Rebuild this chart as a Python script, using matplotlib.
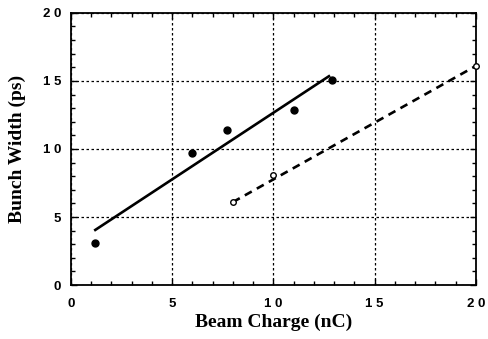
import matplotlib
matplotlib.use("Agg")
import matplotlib.pyplot as plt
from matplotlib.ticker import MultipleLocator

# filled points and their fitted line
charge_a = [1.2, 6.0, 7.7, 11.0, 12.9]
width_a = [3.1, 9.7, 11.4, 12.9, 15.1]
fit_a_x = [1.15, 12.8]
fit_a_y = [4.0, 15.4]

# open points and their fitted line
charge_b = [8.0, 10.0, 20.0]
width_b = [6.1, 8.1, 16.1]
fit_b_x = [8.0, 20.0]
fit_b_y = [6.1, 16.1]

ticks = [0, 5, 10, 15, 20]
tick_labels = ["0", "5", "1 0", "1 5", "2 0"]

fig = plt.figure(figsize=(4.89, 3.39), dpi=100)
ax = fig.add_axes([0.145, 0.159, 0.828, 0.803])

ax.plot(fit_a_x, fit_a_y, color="black", lw=1.9, solid_capstyle="butt")
ax.plot(charge_a, width_a, "o", color="black", ms=5)
ax.plot(fit_b_x, fit_b_y, color="black", lw=1.9, dashes=(3, 2.2))
ax.plot(charge_b, width_b, "o", mfc="white", mec="black", ms=4, mew=1, clip_on=False, zorder=5)

ax.set_xlim(0, 20)
ax.set_ylim(0, 20)
ax.set_xticks(ticks)
ax.set_xticklabels(tick_labels)
ax.set_yticks(ticks)
ax.set_yticklabels(tick_labels)
ax.xaxis.set_minor_locator(MultipleLocator(1))
ax.yaxis.set_minor_locator(MultipleLocator(1))
ax.tick_params(which="both", direction="in", top=True, right=True, width=1)
ax.tick_params(which="major", length=4)
ax.tick_params(which="minor", length=3)
ax.tick_params(axis="x", pad=9)
ax.tick_params(axis="y", pad=7)
for lab in ax.get_xticklabels() + ax.get_yticklabels():
    lab.set_fontfamily("Liberation Sans")
    lab.set_fontweight("bold")
    lab.set_fontsize(9.5)

ax.grid(True, which="major", color="black", linestyle=(0, (2, 2)), lw=0.9)
for s in ax.spines.values():
    s.set_linewidth(1.3)

ax.set_xlabel("Beam Charge (nC)", fontfamily="Liberation Serif", fontweight="bold", fontsize=14, labelpad=3)
ax.set_ylabel("Bunch Width (ps)", fontfamily="Liberation Serif", fontweight="bold", fontsize=14, labelpad=12)

fig.savefig("out.png", dpi=100)
